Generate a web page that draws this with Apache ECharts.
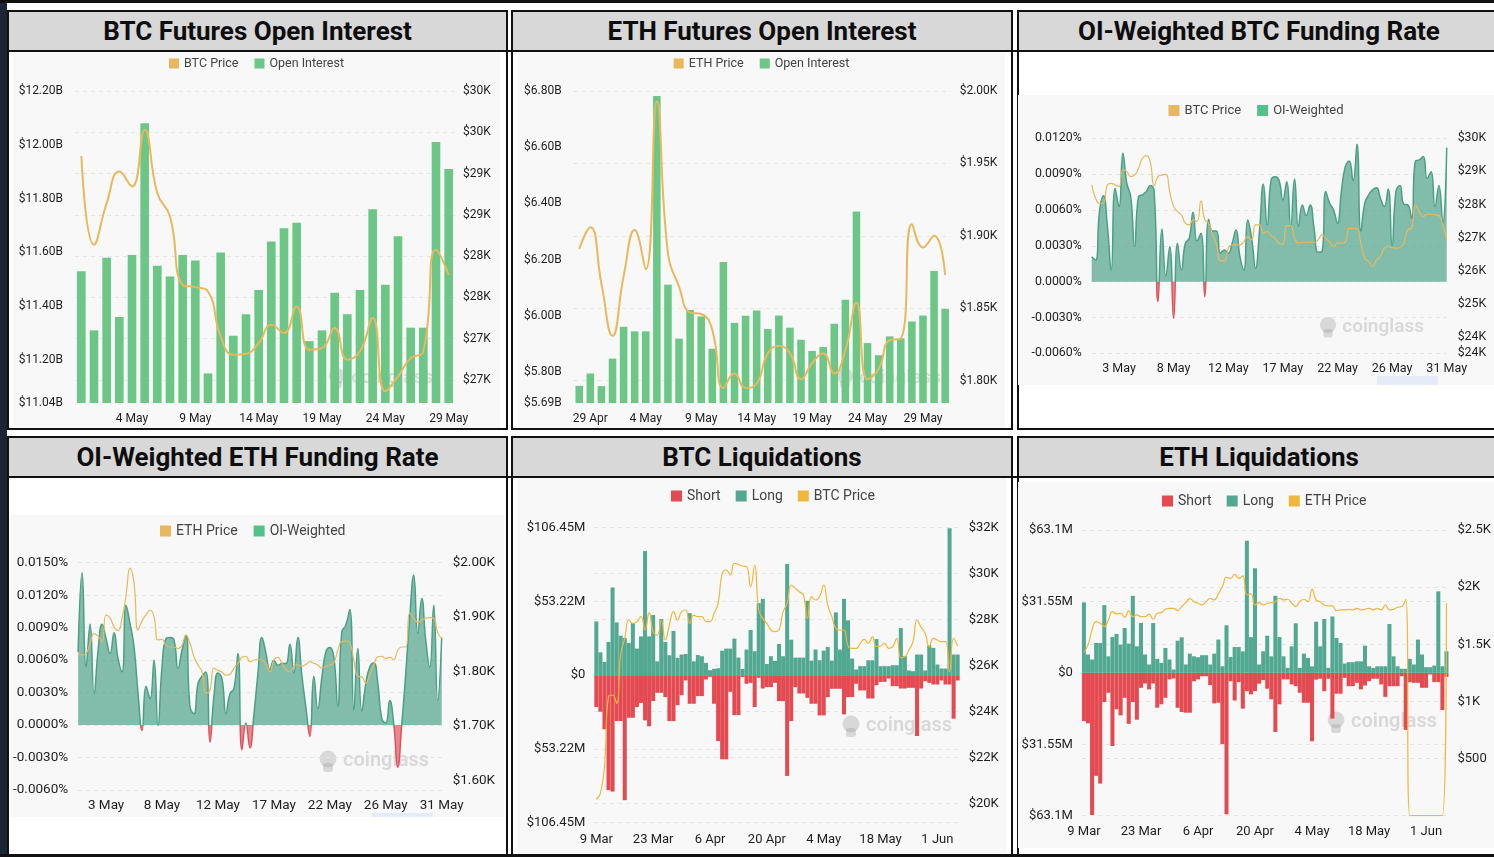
<!DOCTYPE html>
<html><head><meta charset="utf-8">
<script src="https://cdn.jsdelivr.net/npm/echarts@6/dist/echarts.min.js"></script>
<style>
html,body{margin:0;padding:0;background:#fff;width:1494px;height:857px;overflow:hidden;position:relative;font-family:Roboto,'Noto Sans',Arial,sans-serif;}
.abs{position:absolute;}
.panel{position:absolute;border:2px solid #111;box-sizing:border-box;background:#fff;}
.title{position:absolute;left:0;right:0;top:0;height:38px;background:#d8d8d8;border-bottom:2px solid #111;font-weight:700;font-size:26px;text-align:center;line-height:39px;color:#0d0d0d;}
.chart{position:absolute;background:#f8f8f8;z-index:2;}
</style></head><body>
<div class="abs" style="left:0;top:0;width:7px;height:857px;background:#1d2435;z-index:5"></div>
<div class="abs" style="left:0;top:0;width:1494px;height:3px;background:#111;z-index:5"></div>
<div class="abs" style="left:0;top:854px;width:1494px;height:3px;background:#111;z-index:5"></div>

<div class="panel" style="left:7px;top:10px;width:501px;height:420px"><div class="title">BTC Futures Open Interest</div></div>
<div class="panel" style="left:511px;top:10px;width:502px;height:420px"><div class="title">ETH Futures Open Interest</div></div>
<div class="panel" style="left:1017px;top:10px;width:500px;height:420px"><div class="title" style="padding-right:16px">OI-Weighted BTC Funding Rate</div></div>
<div class="panel" style="left:7px;top:436px;width:501px;height:420px"><div class="title">OI-Weighted ETH Funding Rate</div></div>
<div class="panel" style="left:511px;top:436px;width:502px;height:420px"><div class="title">BTC Liquidations</div></div>
<div class="panel" style="left:1017px;top:436px;width:500px;height:420px"><div class="title" style="padding-right:16px">ETH Liquidations</div></div>
<div class="abs" style="left:0;top:50px;width:1494px;height:2px;background:#111;z-index:3"></div>
<div class="abs" style="left:0;top:476px;width:1494px;height:2px;background:#111;z-index:3"></div>

<div id="c1" class="chart" style="left:13px;top:52px;width:487px;height:376px"></div>
<div id="c2" class="chart" style="left:518px;top:52px;width:487px;height:376px"></div>
<div id="c3" class="chart" style="left:1018px;top:95px;width:476px;height:290px"></div>
<div id="c4" class="chart" style="left:10px;top:515px;width:495px;height:302px"></div>
<div id="c5" class="chart" style="left:517px;top:478px;width:489px;height:375px"></div>
<div id="c6" class="chart" style="left:1018px;top:482px;width:476px;height:366px"></div>

<script>
// ---------------- DATA ----------------
// BTC Futures Open Interest (30 Apr - 29 May)
const btcOiDays = ['30 Apr','1 May','2 May','3 May','4 May','5 May','6 May','7 May','8 May','9 May','10 May','11 May','12 May','13 May','14 May','15 May','16 May','17 May','18 May','19 May','20 May','21 May','22 May','23 May','24 May','25 May','26 May','27 May','28 May','29 May'];
const btcOi = [11.53,11.31,11.58,11.36,11.59,12.08,11.55,11.51,11.59,11.57,11.15,11.60,11.29,11.37,11.46,11.64,11.69,11.71,11.27,11.31,11.45,11.37,11.46,11.76,11.48,11.66,11.32,11.32,12.01,11.91];
const btcOiPrice = [29213,28136,28640,29024,28842,29528,28761,28479,27652,27623,27571,27026,26804,26816,26946,27167,27067,27389,26865,26885,27127,26744,26845,27248,26360,26542,26764,26845,28075,27773];
const btcOiTicks = [11.04,11.2,11.4,11.6,11.8,12.0,12.2];
const btcOiPriceTicks = [26500,27000,27500,28000,28500,29000,29500,30000];

// ETH Futures Open Interest (28 Apr - 31 May)
const ethOiDays = ['28 Apr','29 Apr','30 Apr','1 May','2 May','3 May','4 May','5 May','6 May','7 May','8 May','9 May','10 May','11 May','12 May','13 May','14 May','15 May','16 May','17 May','18 May','19 May','20 May','21 May','22 May','23 May','24 May','25 May','26 May','27 May','28 May','29 May','30 May','31 May'];
const ethOi = [5.751,5.795,5.750,5.848,5.961,5.945,5.945,6.782,6.111,5.919,6.021,5.998,5.883,6.192,5.975,6.000,6.019,5.953,6.001,5.958,5.915,5.875,5.889,5.972,6.057,6.371,5.903,5.860,5.927,5.920,5.980,6.001,6.160,6.025];
const ethOiPrice = [1891,1906,1867,1831,1872,1904,1877,1993,1888,1865,1847,1846,1835,1795,1805,1795,1798,1819,1824,1819,1801,1812,1819,1805,1821,1854,1801,1808,1828,1829,1908,1892,1900,1873];
const ethOiTicks = [5.69,5.8,6.0,6.2,6.4,6.6,6.8];
const ethOiPriceTicks = [1800,1850,1900,1950,2000];

// OI-weighted funding rates (8h points, 1 May 00:00 - 31 May 08:00)
const fundDays = ['1 May','2 May','3 May','4 May','5 May','6 May','7 May','8 May','9 May','10 May','11 May','12 May','13 May','14 May','15 May','16 May','17 May','18 May','19 May','20 May','21 May','22 May','23 May','24 May','25 May','26 May','27 May','28 May','29 May','30 May','31 May'];
const fundHours = ['00:00','08:00','16:00'];
const btcFund = [0.00209,0.00181,0.00586,0.0072,0.00474,0.00098,0.00781,0.00628,0.01074,0.00823,0.00712,0.00293,0.00712,0.00726,0.00754,0.00804,0.00754,-0.00167,0.00441,0.0005,0.00293,-0.00307,0.00321,0.00098,0.00321,0.00363,0.0058,0.0034,0.00405,-0.00126,0.00522,0.00424,0.00424,0.00237,0.00265,0.00237,0.00321,0.00433,0.00209,0.00098,0.00516,0.00363,0.00112,0.00419,0.00815,0.00474,0.00851,0.00879,0.00851,0.00684,0.00837,0.0046,0.0086,0.0046,0.00642,0.00553,0.00642,0.00447,0.00246,0.00251,0.00754,0.00656,0.006,0.00488,0.00754,0.00963,0.0101,0.00843,0.0115,0.00419,0.00656,0.00726,0.00768,0.00787,0.00698,0.00628,0.00776,0.00301,0.00754,0.00804,0.00648,0.00642,0.0053,0.0101,0.01019,0.01047,0.00865,0.00921,0.00628,0.00804,0.00488,0.01122];
const btcFundPrice = [28590,28187,28036,28036,28590,28640,28590,28540,29043,28993,28842,28892,29094,29396,29476,29295,28570,28842,28892,28912,28389,27936,27785,27684,27432,27382,27533,27483,28107,27533,27432,27080,26778,26294,26294,26677,26778,26778,26778,26878,27029,26929,27382,27382,27130,27180,27060,26979,26828,26798,27362,27362,26979,26828,26858,26858,26858,26858,26929,27080,26979,26858,26727,26828,26828,26858,27281,27281,27261,26828,26375,26274,26123,26324,26425,26677,26727,26697,26677,26697,26828,27231,27281,27986,27785,27634,27704,27704,27684,27664,27382,26929];
const btcFundPriceTicks = [23500,24000,25000,26000,27000,28000,29000,30000];
const ethFund = [0.00676,0.01407,0.00537,0.00932,0.0029,0.00691,0.00932,0.00799,0.0066,0.00852,0.00614,0.00491,0.01108,0.00938,0.00722,0.0029,-0.00049,0.00358,0.00244,0.00599,-0.00003,0.00537,0.00799,0.00809,0.00784,0.00522,0.00691,0.0083,0.00167,0.00105,0.00383,0.00451,0.00491,-0.00157,0.00265,0.00481,0.00429,0.00105,0.0029,0.00336,0.0066,-0.00228,0.00019,-0.0021,0.00099,0.00475,0.00809,0.00667,0.00512,0.00599,0.00552,0.00568,0.00568,0.00747,0.00481,0.00809,0.0046,0.00167,-0.00105,0.00451,0.00151,0.00438,0.00676,0.00716,0.0063,0.00173,0.00861,0.00923,0.01068,0.00136,0.00707,0.0013,0.00383,0.00537,0.00574,0.00389,0.00059,0.00019,0.00228,0.00012,-0.00389,0.00006,0.00475,0.01,0.01386,0.00846,0.0117,0.00784,0.00537,0.01108,0.00228,0.00809];
const ethFundPrice = [1834,1830,1833,1852,1869,1865,1855,1904,1898,1882,1875,1898,1940,1990,1962,1876,1893,1904,1913,1901,1858,1859,1848,1845,1845,1842,1848,1867,1852,1827,1812,1799,1760,1766,1806,1802,1799,1793,1795,1806,1815,1826,1828,1818,1821,1822,1821,1815,1799,1821,1826,1815,1804,1799,1810,1812,1810,1813,1818,1815,1812,1806,1809,1812,1816,1839,1855,1856,1853,1821,1791,1790,1778,1795,1812,1827,1828,1824,1826,1822,1839,1845,1845,1908,1898,1890,1894,1898,1899,1898,1871,1861];
const ethFundPriceTicks = [1600,1700,1800,1900,2000];

// Liquidations (daily, 9 Mar - 6 Jun)
const liqMonths = [['Mar',9,31],['Apr',1,30],['May',1,31],['Jun',1,6]];
const btcLong = [38.8,16.5,9.6,24,63.3,38.1,28.5,26.9,23.2,37.6,19.2,28,89.6,28,43.4,10,40.5,24,14.4,31.9,12.5,14.9,15.3,44.8,10,14.6,13.7,8.9,3.6,4.6,5,17.7,19.2,19.2,26.4,12.7,4.6,18.5,32.6,17.3,52,55.1,8.1,13.7,10.3,22.5,13.7,80.3,25.6,12.7,12.7,12.7,53.7,10.5,18.5,10.8,17.7,20.4,10.5,45.3,18.5,55.1,39.6,12,4.1,6.5,6.5,10.8,10.8,26.1,6.5,6.5,6.5,7.2,7.2,34,13.7,3.4,2.9,14.9,14.9,3.4,21.6,19.7,7.7,4.8,4.8,106,14.9,14.9];
const btcShort = [23,26.4,39,83,84,33.1,33.1,90.2,30.7,30.7,23,20,32.6,36.9,18.7,12.7,12.7,15.8,33.1,33.1,21.6,14.4,3.8,20.6,20.6,15.1,15.1,3.1,1.2,20.6,47.5,60.7,60.7,12,28.8,28.8,1.2,6.2,5.5,23,1.9,9.6,8.6,8.6,5.5,18.7,18.7,72.7,33.1,8.6,13.2,13.2,16.3,20.6,20.6,29,29,15.8,9.8,9.8,9.8,28.3,15.8,15.8,6.2,11,11,16.8,16.8,7.2,4.8,4.8,2.4,7.9,7.9,9.6,9.6,9.1,9.1,43.9,9.6,4.3,5.5,6.7,6.7,3.8,6.7,6.7,31.4,3.8];
const btcLiqPrice = [20191,20452,21610,24654,24726,24364,26500,27189,27986,27841,27914,28131,27552,28305,27479,27334,27986,27117,27769,28348,27986,28348,28421,27841,28203,28131,28131,27914,27914,28276,28711,30015,30160,29942,30450,30406,30334,30305,29435,30377,28421,28059,27841,27552,27479,27552,28348,28711,29508,29363,29218,29073,28059,29000,28856,29000,29508,28638,28131,27624,27552,27552,26856,26754,26754,26972,27146,26972,27262,26827,26856,26972,26754,26827,27189,26349,26392,26682,27044,27986,27667,27407,26827,27189,27117,27044,27044,25740,27189,26856];
const btcLiqTicks = [-106.45,-53.22,0,53.22,106.45];
const btcLiqPriceTicks = [20000,22000,24000,26000,28000,30000,32000];
const ethLong = [31.1,8.1,5.9,13.2,13.2,29.9,7.3,15.8,17.2,12.5,19.8,12.9,34,11.7,22,8.1,3.7,22,6.2,4.4,11,5.9,1.5,14.2,15.7,3.7,8.5,7.3,6.9,7.8,7.8,3.7,8.5,14.7,2.9,21,7,11.4,11.4,9.5,58.4,15.8,46.2,3.7,9.5,16.4,7.3,34,15.8,7.3,2.2,11.7,21.9,2.2,8.5,6.6,2.9,22.6,11.7,23.8,2.2,24.9,15.4,13.2,4.1,4.7,4.7,5.1,5.1,12,2.9,2.2,2.9,2.9,2.9,21.6,7.3,2.9,1.8,1.8,6.2,3.7,14.7,8.1,2.5,2.5,3.2,36,2.9,9.5];
const ethShort = [21.3,22.3,62.8,45.5,48.9,12.9,8.8,32.3,16.1,18.8,11,22.5,12.9,20.7,6.6,4.7,7.3,4.7,15.4,13.9,11,2.9,2.5,15.4,17.3,17.6,17.6,3.7,2.9,1.5,1.5,5.4,13.5,13.2,31.5,62.5,3.7,12.2,4.1,15.8,8.1,9.5,8.1,4.8,3.2,7,11.7,26.1,13.9,2.9,2.9,5.1,5.9,8.8,13.2,13.2,30.2,3,2.6,8.1,2.6,20.2,9.2,9.2,2.2,5.9,5.9,4.4,7.3,5.6,3.7,2.6,2.6,5.1,10.6,5.9,5.9,5.9,1.5,25.2,4.1,4.4,4.4,6.6,6.6,0.7,4.1,4.1,16.4,1.8];
const ethLiqPrice = [1428,1495,1626,1699,1684,1655,1713,1786,1766,1771,1737,1795,1742,1757,1742,1742,1763,1719,1771,1777,1806,1815,1815,1795,1830,1865,1900,1873,1859,1844,1873,1903,1888,1941,2005,2086,2077,2112,2077,2098,1932,1941,1844,1865,1844,1859,1865,1873,1903,1888,1894,1859,1830,1873,1894,1873,1981,1888,1873,1844,1836,1836,1795,1801,1801,1806,1801,1815,1801,1806,1815,1801,1815,1801,1844,1801,1806,1824,1830,1894,0,0,0,0,0,0,0,0,0,1859];
const ethLiqTicks = [-63.1,-31.55,0,31.55,63.1];
const ethLiqPriceTicks = [500,1000,1500,2000,2500];

// ---------------- BUILD ----------------
const FONT = "Roboto, 'Noto Sans', Arial, sans-serif";
const TXT = '#1e1e1e';
const fundCats = [];
btcFund.forEach((_, k) => fundCats.push(fundDays[Math.floor(k / 3)] + ' ' + fundHours[k % 3]));
const liqDays = [];
liqMonths.forEach(([m, a, b]) => { for (let d = a; d <= b; d++) liqDays.push(d + ' ' + m); });

const DASH = {show: true, lineStyle: {type: [4, 4], color: '#e4e4e4', width: 1}};
const NOLINE = {show: false};
function lab(size, extra) { return Object.assign({color: TXT, fontSize: size, fontFamily: FONT}, extra || {}); }
function legend(opts) {
  return Object.assign({icon: 'rect', itemWidth: 10, itemHeight: 10, itemGap: 16,
    textStyle: {color: '#444', fontSize: 12.5, fontFamily: FONT}}, opts);
}
function watermark(x, y, size) {
  const c = 'rgba(150,150,150,0.32)';
  return [
    {type: 'circle', shape: {cx: x, cy: y - 2, r: size * 0.42}, style: {fill: c}, silent: true},
    {type: 'rect', shape: {x: x - size * 0.25, y: y + 2, width: size * 0.5, height: size * 0.45, r: 3}, style: {fill: c}, silent: true},
    {type: 'text', x: x + size * 0.75, y: y, style: {text: 'coinglass', fontSize: size, fontWeight: 600, fill: c, fontFamily: FONT, verticalAlign: 'middle'}, silent: true}
  ];
}
function fix(v, d) { return (Math.abs(v) < 1e-9 ? 0 : v).toFixed(d); }
function init(id) { return echarts.init(document.getElementById(id)); }

// 1. BTC OI
init('c1').setOption({
  animation: false,
  legend: legend({top: 0, left: 'center', data: ['BTC Price', 'Open Interest']}),
  grid: {left: 62, right: 45, top: 39, bottom: 25},
  graphic: watermark(324, 326, 19),
  xAxis: {type: 'category', data: btcOiDays, axisLine: NOLINE, axisTick: {show: false},
    axisLabel: lab(12, {interval: (i) => i % 5 === 4, margin: 10})},
  yAxis: [
    {type: 'value', min: 11.04, max: 12.2, splitLine: NOLINE, axisLine: NOLINE,
      axisTick: {show: false, customValues: btcOiTicks},
      axisLabel: lab(12, {customValues: btcOiTicks, margin: 12, formatter: (v) => '$' + v.toFixed(2) + 'B'})},
    {type: 'value', min: 26219, max: 30000, position: 'right', splitLine: DASH, axisLine: NOLINE,
      axisTick: {show: false, customValues: btcOiPriceTicks},
      axisLabel: lab(12, {customValues: btcOiPriceTicks, margin: 8, formatter: (v) => '$' + Math.round(v / 1000) + 'K'})}
  ],
  series: [
    {name: 'Open Interest', type: 'bar', data: btcOi, yAxisIndex: 0, barWidth: '68%', itemStyle: {color: '#6cc685'}},
    {name: 'BTC Price', type: 'line', data: btcOiPrice, yAxisIndex: 1, smooth: true, showSymbol: false,
      lineStyle: {color: '#e9b85c', width: 2}, itemStyle: {color: '#e9b85c'}, z: 4}
  ]
});

// 2. ETH OI
init('c2').setOption({
  animation: false,
  legend: legend({top: 0, left: 'center', data: ['ETH Price', 'Open Interest']}),
  grid: {left: 55.7, right: 54.3, top: 39, bottom: 25},
  graphic: watermark(327, 326, 19),
  xAxis: {type: 'category', data: ethOiDays, axisLine: NOLINE, axisTick: {show: false},
    axisLabel: lab(12, {interval: (i) => i % 5 === 1, margin: 10})},
  yAxis: [
    {type: 'value', min: 5.69, max: 6.8, splitLine: NOLINE, axisLine: NOLINE,
      axisTick: {show: false, customValues: ethOiTicks},
      axisLabel: lab(12, {customValues: ethOiTicks, margin: 12, formatter: (v) => '$' + v.toFixed(2) + 'B'})},
    {type: 'value', min: 1784.6, max: 2000, position: 'right', splitLine: DASH, axisLine: NOLINE,
      axisTick: {show: false, customValues: ethOiPriceTicks},
      axisLabel: lab(12, {customValues: ethOiPriceTicks, margin: 9, formatter: (v) => '$' + (v / 1000).toFixed(2) + 'K'})}
  ],
  series: [
    {name: 'Open Interest', type: 'bar', data: ethOi, yAxisIndex: 0, barWidth: '68%', itemStyle: {color: '#6cc685'}},
    {name: 'ETH Price', type: 'line', data: ethOiPrice, yAxisIndex: 1, smooth: true, showSymbol: false,
      lineStyle: {color: '#e9b85c', width: 2}, itemStyle: {color: '#e9b85c'}, z: 4}
  ]
});

// funding chart builder
function fundingOption(cfg) {
  return {
    animation: false,
    legend: legend({top: cfg.legendTop, left: cfg.legendLeft, itemWidth: cfg.icon, itemHeight: cfg.icon, itemGap: 16,
      textStyle: {color: '#444', fontSize: cfg.legendSize, fontFamily: FONT}, data: [cfg.priceName, 'OI-Weighted']}),
    grid: cfg.grid,
    graphic: cfg.graphic,
    visualMap: {show: false, type: 'piecewise', seriesIndex: 1, dimension: 1,
      pieces: [{gte: -1, lt: 0, color: '#df525c'}, {gte: 0, lte: 1, color: '#4a9f86'}],
      outOfRange: {color: '#4a9f86'}},
    xAxis: {type: 'category', boundaryGap: false, data: fundCats, axisLine: NOLINE, axisTick: {show: false},
      axisLabel: lab(cfg.xSize, {interval: (i) => i % 14 === 7, margin: cfg.xMargin,
        formatter: (v) => v.split(' ').slice(0, 2).join(' ')})},
    yAxis: [
      {type: 'value', min: -0.006, max: cfg.fundMax, interval: 0.003, splitLine: DASH, axisLine: NOLINE, axisTick: {show: false},
        axisLabel: lab(cfg.ySize, {margin: cfg.lMargin, formatter: (v) => fix(v, 4) + '%'})},
      {type: 'value', min: cfg.pMin, max: cfg.pMax, position: 'right', splitLine: NOLINE, axisLine: NOLINE,
        axisTick: {show: false, customValues: cfg.pTicks},
        axisLabel: lab(cfg.ySize, {customValues: cfg.pTicks, margin: cfg.rMargin, formatter: cfg.pFmt})}
    ],
    series: [
      {name: cfg.priceName, type: 'line', data: cfg.price, yAxisIndex: 1, smooth: true, showSymbol: false,
        lineStyle: {color: '#e9b85c', width: 1.2}, itemStyle: {color: '#e9b85c'}, z: 4},
      {name: 'OI-Weighted', type: 'line', data: cfg.fund, yAxisIndex: 0, smooth: true, showSymbol: false,
        lineStyle: {width: 1.5}, areaStyle: {opacity: 0.68}, itemStyle: {color: '#55c08a'}, z: 3}
    ]
  };
}

// 3. BTC funding
init('c3').setOption(fundingOption({
  legendTop: 4, legendLeft: 'center', icon: 11, legendSize: 13, priceName: 'BTC Price',
  grid: {left: 73.7, right: 47.3, top: 43.3, bottom: 31.7},
  graphic: watermark(310, 232, 19).concat([{type: 'rect', shape: {x: 359, y: 281, width: 61, height: 9}, style: {fill: '#e6ebf8'}}]),
  xSize: 12.5, xMargin: 9, ySize: 12.3, lMargin: 10, rMargin: 11,
  fundMax: 0.012, pMin: 23500, pMax: 30000, pTicks: btcFundPriceTicks,
  pFmt: (v) => '$' + Math.round(v / 1000) + 'K',
  price: btcFundPrice, fund: btcFund
}));

// 4. ETH funding
init('c4').setOption(fundingOption({
  legendTop: 4, legendLeft: 145, icon: 11, legendSize: 14, priceName: 'ETH Price',
  grid: {left: 67.3, right: 63.3, top: 47.7, bottom: 27},
  graphic: watermark(318, 246, 20).concat([{type: 'rect', shape: {x: 362, y: 298, width: 61, height: 4}, style: {fill: '#e6ebf8'}}]),
  xSize: 13.5, xMargin: 9, ySize: 13.5, lMargin: 10, rMargin: 11,
  fundMax: 0.015, pMin: 1582, pMax: 2000, pTicks: ethFundPriceTicks,
  pFmt: (v) => '$' + (v / 1000).toFixed(2) + 'K',
  price: ethFundPrice, fund: ethFund
}));

// liquidation chart builder
function liqOption(cfg) {
  return {
    animation: false,
    legend: legend({top: cfg.legendTop, left: cfg.legendLeft, itemWidth: 11, itemHeight: 11, itemGap: 15,
      textStyle: {color: '#444', fontSize: 14, fontFamily: FONT}, data: ['Short', 'Long', cfg.priceName]}),
    grid: cfg.grid,
    graphic: cfg.graphic,
    xAxis: {type: 'category', data: liqDays, axisLine: NOLINE, axisTick: {show: false},
      axisLabel: lab(13, {interval: (i) => i % 14 === 0, margin: cfg.xMargin})},
    yAxis: [
      {type: 'value', min: cfg.lTicks[0], max: cfg.lTicks[4], splitLine: DASH, axisLine: NOLINE,
        axisTick: {show: false, customValues: cfg.lTicks},
        axisLabel: lab(13, {customValues: cfg.lTicks, margin: 9,
          formatter: (v) => Math.abs(v) < 1e-9 ? '$0' : '$' + Math.abs(v) + 'M'})},
      {type: 'value', min: cfg.pMin, max: cfg.pMax, position: 'right', splitLine: DASH, axisLine: NOLINE,
        axisTick: {show: false, customValues: cfg.pTicks},
        axisLabel: lab(13, {customValues: cfg.pTicks, margin: 9, formatter: cfg.pFmt})}
    ],
    series: [
      {name: 'Short', type: 'bar', data: cfg.short.map((v) => -v), yAxisIndex: 0, barGap: '-100%', barCategoryGap: '1%',
        itemStyle: {color: '#e34a51'}},
      {name: 'Long', type: 'bar', data: cfg.long, yAxisIndex: 0, barCategoryGap: '1%', itemStyle: {color: '#52a891'}},
      {name: cfg.priceName, type: 'line', data: cfg.price, yAxisIndex: 1, smooth: true, showSymbol: false,
        lineStyle: {color: '#efb73c', width: 1.2}, itemStyle: {color: '#efb73c'}, z: 4}
    ]
  };
}

// 5. BTC liquidations
init('c5').setOption(liqOption({
  legendTop: 6, legendLeft: 149, priceName: 'BTC Price', xMargin: 11,
  grid: {left: 77.3, right: 46.3, top: 49.7, bottom: 30.3},
  graphic: watermark(334, 248, 20),
  lTicks: btcLiqTicks, pMin: 19174, pMax: 32000, pTicks: btcLiqPriceTicks,
  pFmt: (v) => '$' + (v / 1000) + 'K',
  short: btcShort, long: btcLong, price: btcLiqPrice
}));

// 6. ETH liquidations
init('c6').setOption(liqOption({
  legendTop: 7, legendLeft: 139, priceName: 'ETH Price', xMargin: 10,
  grid: {left: 63.9, right: 39.5, top: 48, bottom: 32.3},
  graphic: watermark(318, 240, 20),
  lTicks: ethLiqTicks, pMin: 0, pMax: 2500, pTicks: ethLiqPriceTicks,
  pFmt: (v) => v >= 1000 ? '$' + (v / 1000) + 'K' : '$' + v,
  short: ethShort, long: ethLong, price: ethLiqPrice
}));
</script>
</body></html>
